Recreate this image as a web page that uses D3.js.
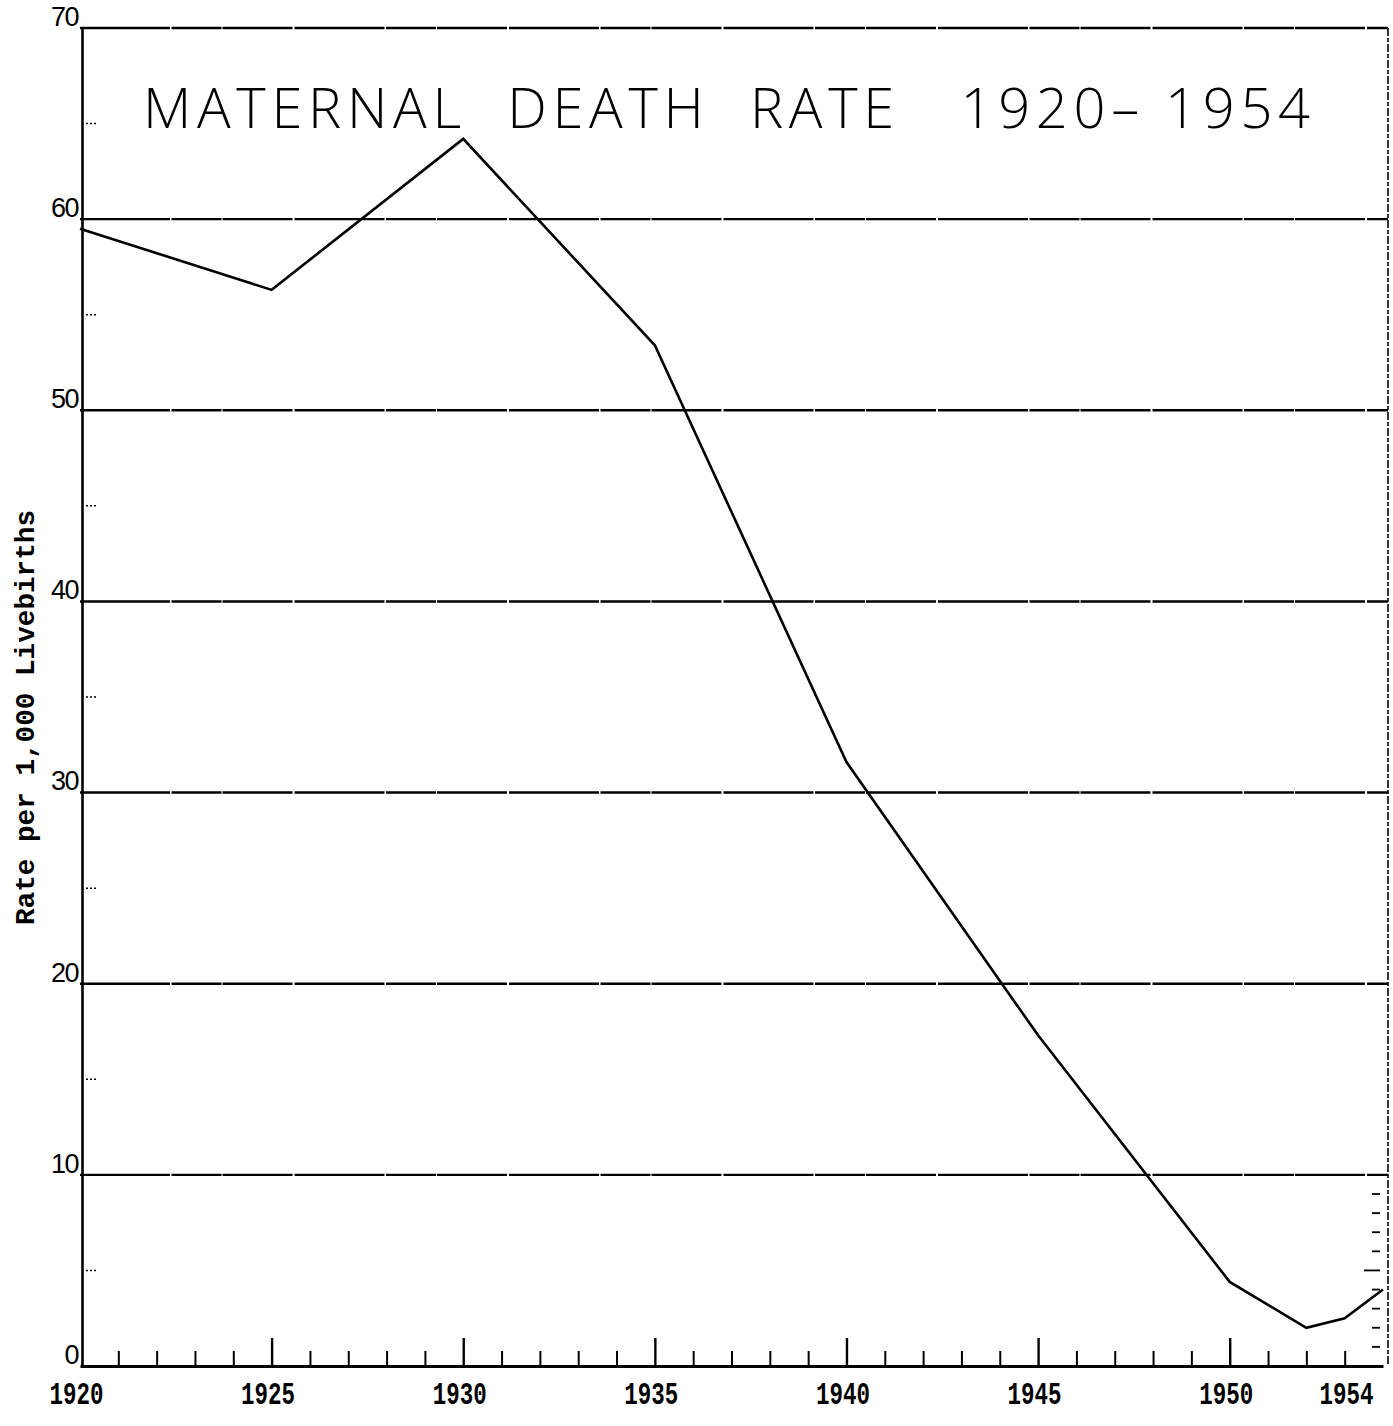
<!DOCTYPE html>
<html>
<head>
<meta charset="utf-8">
<script src="https://cdn.jsdelivr.net/npm/d3@7"></script>
<style>
  body { margin: 0; background: #fff; }
  svg { display: block; }
  .ylab { font-family: "Liberation Sans", Arial, sans-serif; font-size: 27px; letter-spacing: -1.5px; }
  .xlab { font-family: "Liberation Mono", "Courier New", monospace; font-size: 31px; font-weight: bold; }
</style>
</head>
<body>
<svg id="chart"></svg>
<script>
const years = [1920, 1925, 1930, 1935, 1940, 1945, 1950, 1952, 1953, 1954];
const rates = [59.5, 56.3, 64.2, 53.4, 31.6, 17.3, 4.4, 2.0, 2.5, 4.0];
const yearLabels = [1920, 1925, 1930, 1935, 1940, 1945, 1950, 1954];
const rateTicks = [0, 10, 20, 30, 40, 50, 60, 70];
const title = "MATERNAL  DEATH  RATE   1920\u2013 1954";
const yTitle = "Rate per 1,000 Livebirths";

const width = 1393;
const height = 1426;

const svg = d3.select("#chart")
  .attr("width", width)
  .attr("height", height);

const x = d3.scaleLinear().domain([1920, 1954]).range([80, 1383]);
const y = d3.scaleLinear().domain([0, 70]).range([1366, 28]);

// horizontal rules every 10
svg.append("g")
  .selectAll("line")
  .data(rateTicks.filter(d => d > 0))
  .enter()
  .append("line")
  .attr("x1", x(1920))
  .attr("x2", 1388)
  .attr("y1", d => y(d))
  .attr("y2", d => y(d))
  .attr("stroke", "#000")
  .attr("stroke-width", 2.4)
  .attr("stroke-dasharray", "90 1.5 50 1 70 2");

// little dashes on the left at the halves
svg.append("g")
  .selectAll("line")
  .data(d3.range(5, 70, 10))
  .enter()
  .append("line")
  .attr("x1", x(1920) + 6)
  .attr("x2", x(1920) + 17)
  .attr("y1", d => y(d))
  .attr("y2", d => y(d))
  .attr("stroke", "#000")
  .attr("stroke-width", 1.5)
  .attr("stroke-dasharray", "2 2");

// right border with unit marks near the bottom
svg.append("line")
  .attr("x1", 1388).attr("x2", 1388)
  .attr("y1", y(70)).attr("y2", y(0))
  .attr("stroke", "#000")
  .attr("stroke-width", 1.6)
  .attr("stroke-dasharray", "8 2 4 2");

svg.append("g")
  .selectAll("line")
  .data(d3.range(1, 10))
  .enter()
  .append("line")
  .attr("x1", d => d == 5 ? 1364 : 1372)
  .attr("x2", 1380)
  .attr("y1", d => y(d))
  .attr("y2", d => y(d))
  .attr("stroke", "#000")
  .attr("stroke-width", 1.8);

// y axis
const yAxis = svg.append("g")
  .attr("transform", `translate(${x(1920) + 2},0)`)
  .call(d3.axisLeft(y).tickValues(rateTicks).tickSize(0).tickPadding(4));
yAxis.select(".domain").attr("stroke-width", 2.6);
yAxis.selectAll("text")
  .attr("class", "ylab")
  .attr("fill", "#000")
  .attr("dy", "-0.1em");

// x axis: yearly ticks, longer every five
const minorYears = d3.range(1921, 1954).filter(d => d % 5 != 0);
const majorYears = d3.range(1925, 1954, 5);

const xMinor = svg.append("g")
  .attr("transform", `translate(0,${y(0)})`)
  .call(d3.axisBottom(x).tickValues(minorYears).tickSizeInner(-15).tickSizeOuter(0).tickFormat(""));
xMinor.select(".domain").attr("stroke-width", 3);
xMinor.selectAll(".tick line").attr("stroke-width", 2);

const xMajor = svg.append("g")
  .attr("transform", `translate(0,${y(0)})`)
  .call(d3.axisBottom(x).tickValues(majorYears).tickSizeInner(-28).tickSizeOuter(0).tickFormat(""));
xMajor.select(".domain").remove();
xMajor.selectAll(".tick line").attr("stroke-width", 2.4);

const xLabels = svg.append("g")
  .attr("transform", `translate(0,${y(0)})`)
  .call(d3.axisBottom(x).tickValues(yearLabels).tickSize(0).tickPadding(16).tickFormat(d3.format("d")));
xLabels.select(".domain").remove();
xLabels.selectAll("text")
  .attr("class", "xlab")
  .attr("fill", "#000")
  .attr("textLength", 54)
  .attr("lengthAdjust", "spacingAndGlyphs")
  .attr("dx", d => d == 1954 ? -37 : -4);

// y title
svg.append("text")
  .attr("class", "xlab")
  .attr("transform", `translate(34,${(510 + 925) / 2}) rotate(-90)`)
  .attr("text-anchor", "middle")
  .attr("textLength", 415)
  .attr("lengthAdjust", "spacingAndGlyphs")
  .style("font-size", "28px")
  .text(yTitle);

// chart title
svg.append("text")
  .attr("x", 143)
  .attr("y", 128)
  .attr("textLength", 1167)
  .attr("lengthAdjust", "spacing")
  .style("white-space", "pre")
  .style("font-family", "'Open Sans', 'DejaVu Sans', sans-serif")
  .style("font-weight", 300)
  .style("font-size", "56px")
  .text(title);

// the rate line
const line = d3.line()
  .x(d => x(d[0]))
  .y(d => y(d[1]));

svg.append("path")
  .datum(d3.zip(years, rates))
  .attr("fill", "none")
  .attr("stroke", "#000")
  .attr("stroke-width", 2.6)
  .attr("d", line);
</script>
</body>
</html>
